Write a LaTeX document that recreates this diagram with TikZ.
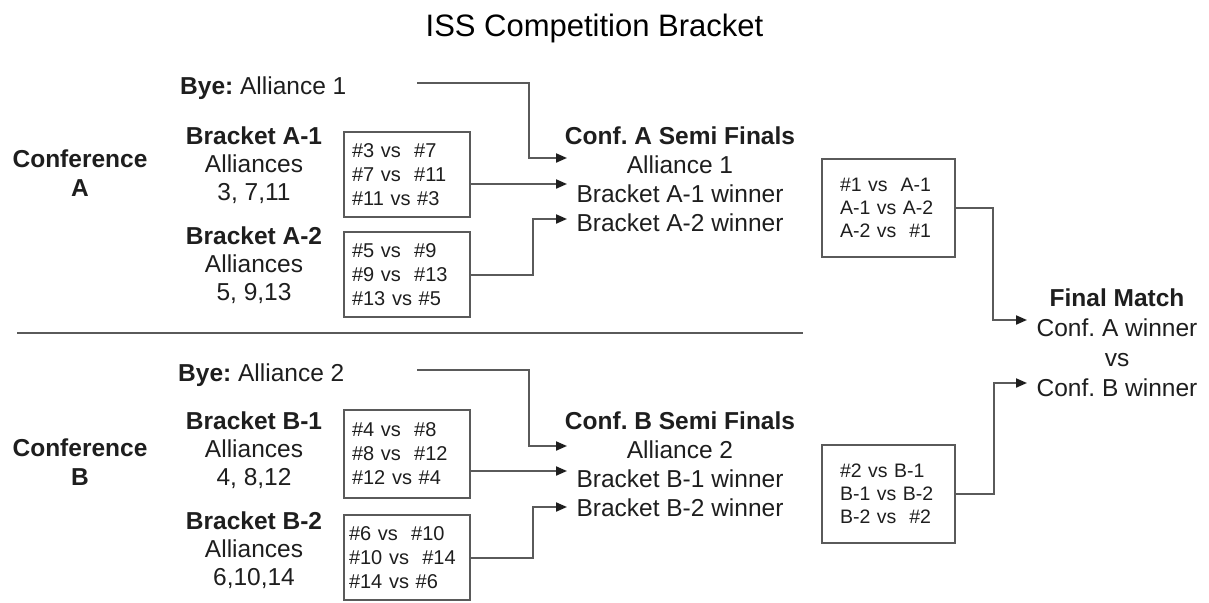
\documentclass[tikz,border=0pt]{standalone}
\usepackage{fontspec}
\setmainfont{Liberation Sans}
\usetikzlibrary{arrows.meta}
\frenchspacing

\definecolor{ink}{HTML}{1E1E1E}
\definecolor{wire}{HTML}{5A5A5A}

\begin{document}
\begin{tikzpicture}[x=1pt,y=-1pt,
    txt/.style={text=ink,inner sep=0pt,align=center,anchor=base,font=\fontsize{24.5}{28}\selectfont},
    semitxt/.style={txt,font=\fontsize{24.5}{29}\selectfont},
    hd/.style={txt,font=\bfseries\fontsize{24.5}{29}\selectfont},
    box/.style={draw=wire,line width=1.8pt,text=ink,align=left,inner xsep=8pt,inner ysep=0pt,
        text width=110pt,minimum height=85pt,font=\fontsize{20}{24}\selectfont},
    semibox/.style={box,inner xsep=18pt,text width=97pt,minimum height=98pt,font=\fontsize{19.5}{23}\selectfont},
    link/.style={draw=wire,line width=2pt,-{Triangle[length=11pt,width=9pt,color=ink]}}]
    \useasboundingbox (0,0) rectangle (1209,602);

    \node[txt,font=\fontsize{31}{36}\selectfont,text=black] (title) at (594.5,37) {ISS Competition Bracket};

    % conference A (multi-line nodes sit on their last baseline)
    \node[hd] (confA) at (80,196) {Conference\\A};
    \node[txt,anchor=base west] (byeA) at (180,94) {\textbf{Bye:} Alliance 1};
    \node[txt] (brA1) at (254,200) {\textbf{Bracket A-1}\\Alliances\\3, 7,11};
    \node[txt] (brA2) at (254,300) {\textbf{Bracket A-2}\\Alliances\\5, 9,13};
    \node[box] (boxA1) at (407,174.5) {\#3 vs~ \#7\\\#7 vs~ \#11\\\#11 vs \#3};
    \node[box] (boxA2) at (407,274.5) {\#5 vs~ \#9\\\#9 vs~ \#13\\\#13 vs \#5};
    \node[semitxt] (semiA) at (680,231) {\textbf{Conf. A Semi Finals}\\Alliance 1\\Bracket A-1 winner\\Bracket A-2 winner};
    \node[semibox] (rrA) at (888.5,208) {\#1 vs~ A-1\\A-1 vs A-2\\A-2 vs~ \#1};

    \draw[draw=wire,line width=2.2pt] (17,333) -- (803,333);

    % conference B
    \node[hd] (confB) at (80,485) {Conference\\B};
    \node[txt,anchor=base west] (byeB) at (178,381) {\textbf{Bye:} Alliance 2};
    \node[txt] (brB1) at (254,485) {\textbf{Bracket B-1}\\Alliances\\4, 8,12};
    \node[txt] (brB2) at (254,585) {\textbf{Bracket B-2}\\Alliances\\6,10,14};
    \node[box,minimum height=88pt] (boxB1) at (407,454) {\#4 vs~ \#8\\\#8 vs~ \#12\\\#12 vs \#4};
    \node[box,inner xsep=5pt,text width=116pt] (boxB2) at (407,557.5) {\#6 vs~ \#10\\\#10 vs~ \#14\\\#14 vs \#6};
    \node[semitxt] (semiB) at (680,516) {\textbf{Conf. B Semi Finals}\\Alliance 2\\Bracket B-1 winner\\Bracket B-2 winner};
    \node[semibox] (rrB) at (888.5,494) {\#2 vs B-1\\B-1 vs B-2\\B-2 vs~ \#2};

    % final
    \node[txt,font=\fontsize{24.5}{30}\selectfont] (final) at (1117,396) {\textbf{Final Match}\\Conf. A winner\\vs\\Conf. B winner};

    % arrow ends
    \coordinate (byeAout) at (417,83);
    \coordinate (byeBout) at (417,370);
    \coordinate (inA0) at (567,158);
    \coordinate (inA1) at (567,184);
    \coordinate (inA2) at (567,219);
    \coordinate (inB0) at (567,446);
    \coordinate (inB1) at (567,471);
    \coordinate (inB2) at (567,507);
    \coordinate (inF1) at (1027,320);
    \coordinate (inF2) at (1027,383);

    \draw[link] (byeAout) -- ++(112,0) |- (inA0);
    \draw[link] (boxA1.east |- inA1) -- (inA1);
    \draw[link] (boxA2.east) -- ++(62,0) |- (inA2);
    \draw[link] (byeBout) -- ++(112,0) |- (inB0);
    \draw[link] (boxB1.east |- inB1) -- (inB1);
    \draw[link] (boxB2.east) -- ++(62,0) |- (inB2);
    \draw[link] (rrA.east) -- ++(37,0) |- (inF1);
    \draw[link] (rrB.east) -- ++(38,0) |- (inF2);
\end{tikzpicture}
\end{document}
